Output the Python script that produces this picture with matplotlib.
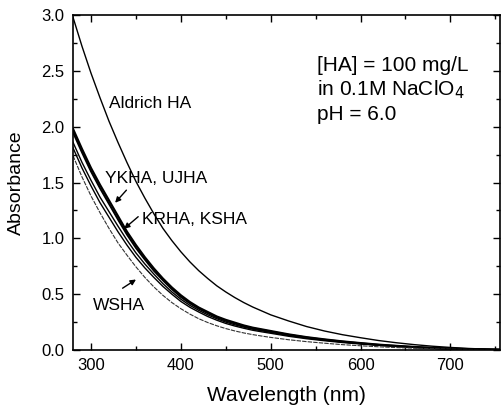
import matplotlib
matplotlib.use("Agg")
import matplotlib.pyplot as plt
from matplotlib.ticker import MultipleLocator, FormatStrFormatter

plt.rcParams['font.family'] = ['Liberation Sans', 'DejaVu Sans']

wavelength = [280, 290, 300, 310, 320, 330, 340, 350, 360, 370, 380, 390, 400,
              410, 420, 430, 440, 450, 460, 470, 480, 490, 500, 520, 540, 560,
              580, 600, 620, 640, 660, 680, 700, 720, 740, 755]

aldrich = [2.98, 2.72, 2.48, 2.26, 2.05, 1.86, 1.68, 1.51, 1.36, 1.22, 1.09, 0.98, 0.88,
           0.79, 0.71, 0.64, 0.575, 0.52, 0.47, 0.425, 0.385, 0.35, 0.315, 0.26, 0.21, 0.17,
           0.137, 0.11, 0.085, 0.065, 0.048, 0.034, 0.023, 0.014, 0.008, 0.005]
ykha = [1.98, 1.80, 1.63, 1.48, 1.34, 1.20, 1.06, 0.94, 0.83, 0.73, 0.64, 0.56, 0.49,
        0.43, 0.38, 0.34, 0.30, 0.27, 0.245, 0.22, 0.20, 0.185, 0.17, 0.14, 0.115, 0.095,
        0.077, 0.062, 0.048, 0.037, 0.027, 0.019, 0.013, 0.008, 0.005, 0.003]
ujha = [1.95, 1.77, 1.60, 1.45, 1.31, 1.17, 1.035, 0.915, 0.81, 0.71, 0.625, 0.545, 0.475,
        0.418, 0.37, 0.33, 0.292, 0.262, 0.238, 0.214, 0.195, 0.18, 0.165, 0.136, 0.112, 0.092,
        0.075, 0.06, 0.046, 0.036, 0.026, 0.018, 0.012, 0.008, 0.005, 0.003]
krha = [1.86, 1.68, 1.52, 1.37, 1.24, 1.11, 0.985, 0.87, 0.77, 0.68, 0.595, 0.52, 0.455,
        0.40, 0.355, 0.315, 0.28, 0.25, 0.226, 0.205, 0.186, 0.172, 0.158, 0.13, 0.107, 0.088,
        0.071, 0.057, 0.044, 0.034, 0.025, 0.017, 0.011, 0.007, 0.004, 0.003]
ksha = [1.81, 1.63, 1.47, 1.32, 1.19, 1.06, 0.94, 0.83, 0.735, 0.65, 0.57, 0.50, 0.435,
        0.383, 0.34, 0.30, 0.267, 0.238, 0.215, 0.195, 0.177, 0.163, 0.15, 0.123, 0.101, 0.083,
        0.067, 0.054, 0.042, 0.032, 0.023, 0.016, 0.010, 0.006, 0.004, 0.002]
wsha = [1.74, 1.55, 1.38, 1.23, 1.09, 0.96, 0.85, 0.745, 0.65, 0.565, 0.49, 0.425, 0.37,
        0.322, 0.28, 0.246, 0.217, 0.192, 0.171, 0.153, 0.138, 0.125, 0.113, 0.092, 0.075, 0.061,
        0.048, 0.038, 0.029, 0.022, 0.016, 0.011, 0.007, 0.004, 0.002, 0.001]

fig = plt.figure(figsize=(5.01, 4.13), dpi=100)
ax = fig.add_axes([0.1457, 0.1525, 0.852, 0.8112])

ax.plot(wavelength, aldrich, color='black', lw=1.0)
ax.plot(wavelength, ykha, color='black', lw=1.6)
ax.plot(wavelength, ujha, color='black', lw=1.4)
ax.plot(wavelength, krha, color='black', lw=1.0)
ax.plot(wavelength, ksha, color='black', lw=1.0)
ax.plot(wavelength, wsha, color='#333333', lw=0.8, ls=(0, (4, 1)))

ax.set_xlim(280, 755)
ax.set_ylim(0, 3.0)
ax.xaxis.set_major_locator(MultipleLocator(100))
ax.xaxis.set_minor_locator(MultipleLocator(50))
ax.yaxis.set_major_locator(MultipleLocator(0.5))
ax.yaxis.set_minor_locator(MultipleLocator(0.25))
ax.yaxis.set_major_formatter(FormatStrFormatter('%.1f'))
ax.tick_params(which='both', direction='in', top=True, right=True, labelsize=12, width=1.0)
ax.tick_params(which='major', length=5, pad=6)
ax.tick_params(which='minor', length=3)
for s in ax.spines.values():
    s.set_linewidth(1.2)

ax.set_xlabel('Wavelength (nm)', fontsize=15, labelpad=9)
ax.set_ylabel('Absorbance', fontsize=14, labelpad=12)

ax.text(320, 2.21, 'Aldrich HA', fontsize=12.5, va='center', ha='left')
ax.text(316, 1.54, 'YKHA, UJHA', fontsize=12.5, va='center', ha='left')
ax.text(357, 1.17, 'KRHA, KSHA', fontsize=12.5, va='center', ha='left')
ax.text(302, 0.40, 'WSHA', fontsize=12.5, va='center', ha='left')

arrowprops = dict(arrowstyle='-|>', color='black', lw=1.0, mutation_scale=8)
ax.annotate('', xy=(324.8, 1.30), xytext=(341.5, 1.45), arrowprops=arrowprops)
ax.annotate('', xy=(334.5, 1.07), xytext=(354.9, 1.21), arrowprops=arrowprops)
ax.annotate('', xy=(352.7, 0.645), xytext=(332.6, 0.54), arrowprops=arrowprops)

ax.text(552, 2.33, '[HA] = 100 mg/L\nin 0.1M NaClO$_4$\npH = 6.0', fontsize=15,
        va='center', ha='left', linespacing=1.25)

fig.savefig('out.png', dpi=100)
